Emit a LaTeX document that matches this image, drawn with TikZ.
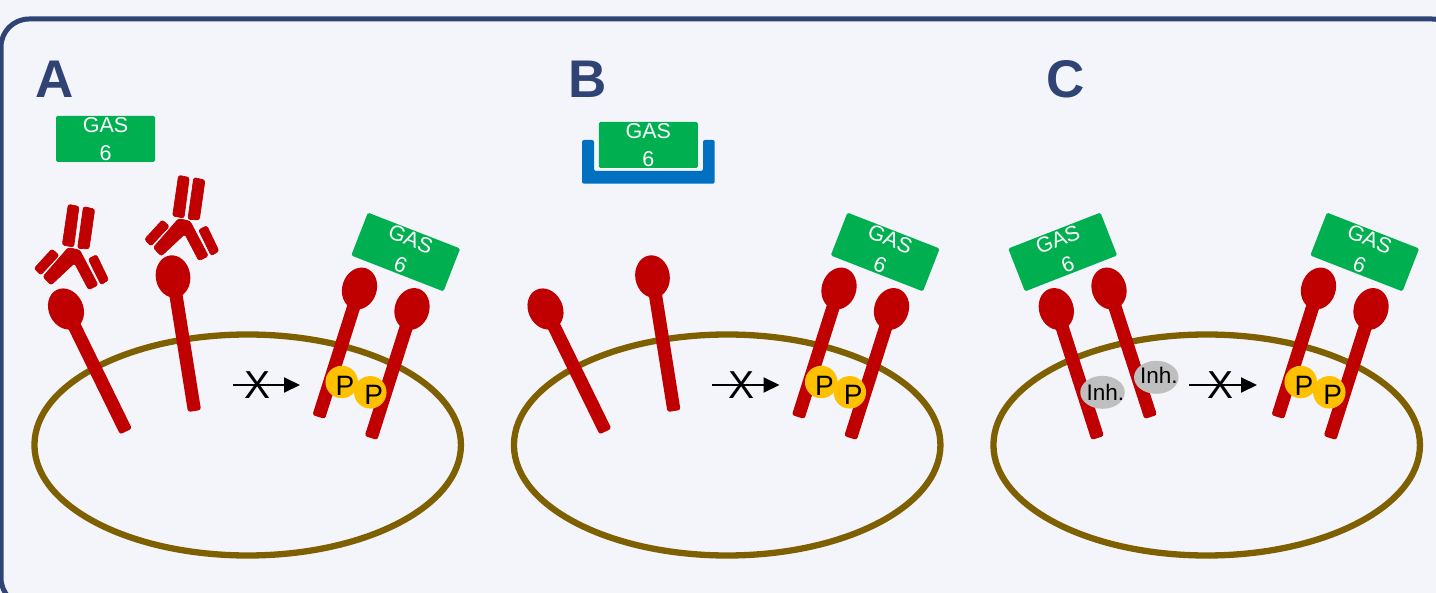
\documentclass[tikz,border=0pt]{standalone}
\usepackage{fontspec}
\setmainfont{Liberation Sans}
\usetikzlibrary{shapes.geometric,arrows.meta,calc}
\definecolor{panelbg}{HTML}{F3F5FB}
\definecolor{framecol}{HTML}{2F4475}
\definecolor{membcol}{HTML}{7F6000}
\definecolor{recred}{HTML}{C00000}
\definecolor{gasgreen}{HTML}{00B050}
\definecolor{trapblue}{HTML}{0070C0}
\definecolor{phos}{HTML}{FFC000}
\definecolor{inhgrey}{HTML}{BFBFBF}
\tikzset{
  x=1pt,y=-1pt,
  membrane/.style={draw=membcol,line width=6.3pt,ellipse,minimum width=426.5pt,minimum height=221pt,inner sep=0pt,outer sep=0pt},
  rechead/.style={fill=recred,ellipse,minimum width=34.5pt,minimum height=42.5pt,inner sep=0pt,outer sep=0pt},
  recstalk/.style={fill=recred,rounded corners=2.5pt},
  gasbox/.style={fill=gasgreen,text=white,rounded corners=1.5pt,minimum width=99pt,minimum height=46pt,inner sep=0pt,outer sep=0pt,
    align=center,font=\fontsize{21.5}{27.5}\selectfont},
  phosdot/.style={circle,fill=phos,minimum size=32.5pt,inner sep=0pt,outer sep=0pt},
  phostext/.style={inner sep=0pt,font=\fontsize{28}{28}\selectfont},
  inhdot/.style={ellipse,fill=inhgrey,minimum width=44.5pt,minimum height=33pt,inner sep=0pt,outer sep=0pt},
  inhtext/.style={inner sep=0pt,font=\fontsize{22.5}{22.5}\selectfont},
  blockarrow/.style={draw=black,line width=2pt,-{Triangle[length=16pt,width=15pt]}},
  blockmark/.style={inner sep=0pt,font=\fontsize{39}{39}\selectfont},
  panellabel/.style={text=framecol,inner sep=0pt,font=\fontsize{53}{53}\selectfont\bfseries},
  abpart/.style={fill=recred,draw=recred,line width=0.7pt,rounded corners=2.3pt},
}
% A receptor: lollipop head with a straight stalk running to its tail
\newcommand{\receptor}[4]{%
  \node[rechead,rotate=#4] (#1h) at #2 {};
  \coordinate (#1t) at #3;
  \fill[recstalk] ($(#1t)!6.6pt!90:(#1h.center)$) -- ($(#1t)!6.6pt!-90:(#1h.center)$)
    -- ($(#1h.center)!6.6pt!90:(#1t)$) -- ($(#1h.center)!6.6pt!-90:(#1t)$) -- cycle;
}
% Inhibited signalling arrow: tail x, tip x, mark x
\newcommand{\blocked}[4]{%
  \coordinate (#1a) at (#2,385);
  \coordinate (#1b) at (#3,385);
  \draw[blockarrow] (#1a) -- (#1b);
  \node[blockmark] (#1x) at (#4,385) {X};
}
% Dimerised, ligand-bound receptor pair with its phosphate groups
\newcommand{\activepair}[2]{%
  \begin{scope}[xshift=#2pt]
    \node[gasbox,rotate=-21.3] (#1gas) at (405.7,252) {GAS\\6};
    \receptor{#1ra}{(359.5,288.5)}{(318.7,417)}{-17.5}
    \receptor{#1rb}{(412,309)}{(371,438)}{-17.5}
    \node[phosdot] (#1pa) at (341.7,382) {};
    \node[phostext] (#1pat) at (345,385.5) {P};
    \node[phosdot] (#1pb) at (370.3,392.3) {};
    \node[phostext] (#1pbt) at (373.7,395) {P};
  \end{scope}
}
\begin{document}
\begin{tikzpicture}
\useasboundingbox (0,0) rectangle (1436,593);
\clip (0,0) rectangle (1436,593);
\fill[panelbg] (0,0) rectangle (1436,593);
\draw[framecol,line width=5pt,rounded corners=28pt] (1,19) rectangle (1460,606);

% Labels
\node[panellabel] (la) at (54.5,79.5) {A};
\node[panellabel] (lb) at (587.5,79.5) {B};
\node[panellabel] (lc) at (1066,79.5) {C};

% Cell membranes
\node[membrane] (ma) at (247.7,445) {};
\node[membrane] (mb) at (727.2,445) {};
\node[membrane] (mc) at (1206.7,445) {};

% Panel A: antibodies block the receptors
\node[gasbox] (gasa) at (105.5,139) {GAS\\6};
\receptor{ar1}{(66,309)}{(126,431.5)}{25.6}
\receptor{ar2}{(173,276.5)}{(194.5,411)}{9}
\foreach \dx/\dy in {0/0,110.3/-29}{
  \begin{scope}[shift={(\dx,\dy)}]
    \filldraw[abpart] (68.3,204.3) -- (79,206.5) -- (73.7,247) -- (62.3,245) -- cycle;
    \filldraw[abpart] (83.5,206.5) -- (94.7,209.2) -- (89,249) -- (77.6,248.3) -- cycle;
    \filldraw[abpart] (52,249) -- (59,255.3) -- (40.7,275) -- (34.3,268.3) -- cycle;
    \filldraw[abpart] (43,276.7) -- (68.3,247.6) -- (79.7,250.2) -- (98,285) -- (88.6,289.7) -- (74.5,263) -- (51,285) -- cycle;
    \filldraw[abpart] (96.5,254.7) -- (108.6,280) -- (101,284.7) -- (88.3,259) -- cycle;
  \end{scope}
}
\blocked{aa}{232.5}{300}{257.5}
\activepair{a}{0}

% Panel B: a soluble trap sequesters the ligand
\draw[fill=trapblue,draw=none,rounded corners=2pt] (582,140) -- (594,140) -- (594,171) -- (703,171) -- (703,140) -- (714.7,140) -- (714.7,183.7) -- (582,183.7) -- cycle;
\node[gasbox] (gasb) at (648.3,145) {GAS\\6};
\receptor{br1}{(545.5,309)}{(605.5,431.5)}{25.6}
\receptor{br2}{(652.5,276.5)}{(674,411)}{9}
\blocked{ba}{712}{779.5}{741}
\activepair{b}{479.5}

% Panel C: small-molecule inhibitors at the kinase domains
\node[gasbox,rotate=21.3] (gasc) at (1062.7,252) {GAS\\6};
\receptor{cr1}{(1056.3,309)}{(1097.7,438)}{17.5}
\receptor{cr2}{(1109,288.5)}{(1150.7,417)}{17.5}
\node[inhdot] (ia) at (1102.5,392.3) {};
\node[inhtext] (iat) at (1105.3,392) {Inh.};
\node[inhdot] (ib) at (1156.3,377.3) {};
\node[inhtext] (ibt) at (1158.8,375.5) {Inh.};
\blocked{ca}{1189}{1257}{1220.5}
\activepair{c}{959}
\end{tikzpicture}
\end{document}
